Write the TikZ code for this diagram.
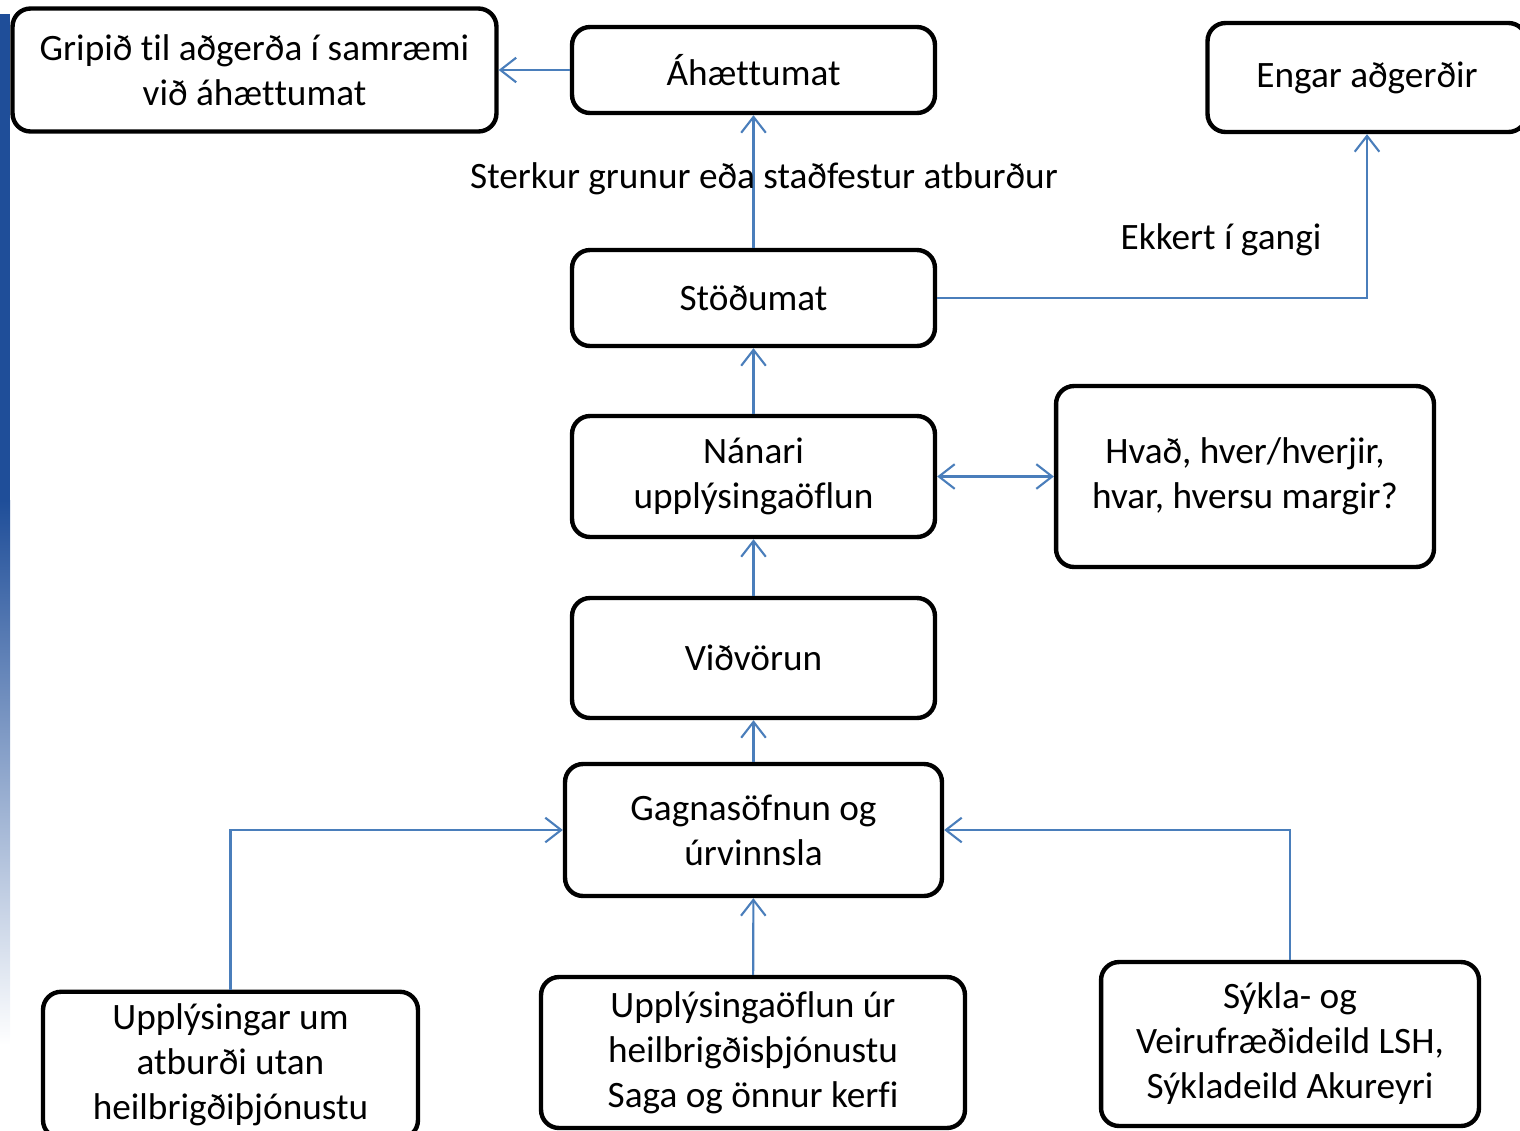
\documentclass[tikz,border=0pt]{standalone}
\usepackage{fontspec}
\setmainfont{Carlito}[Ligatures={NoCommon,NoContextual}]
\usepackage{xcolor}
\usepackage{tikz}
\usetikzlibrary{arrows.meta}
\usetikzlibrary{positioning}
\definecolor{linkblue}{RGB}{74,126,187}
\definecolor{slideblue}{RGB}{31,78,153}
\tikzset{
  flowbox/.style = {draw=black, line width=2.5pt, rounded corners=0.36cm,
    align=center, inner sep=0pt, font=\fontsize{21.2}{25.6}\selectfont},% kassi
  flowtext/.style = {align=center, inner sep=0pt,
    font=\fontsize{21.2}{25.6}\selectfont},% merki
  link/.style = {draw=linkblue, line width=1.2pt}% tenging
}

\begin{document}
\begin{tikzpicture}[x=0.02cm,y=-0.02cm,->,>={Straight Barb[length=9pt,width=14pt]}]
\useasboundingbox (0,0) rectangle (1520,1130);
\clip (0,0) rectangle (1520,1130);
% rond glaerunnar
\fill[slideblue] (0,14) rectangle (10,500);
\shade[top color=slideblue, bottom color=white] (0,500) rectangle (10,1045);

\node [flowbox, minimum width=9.68cm, minimum height=2.46cm] (grip) at (254.5,70)
  {Gripið til aðgerða í samræmi\\við áhæt\kern0pt tumat};
\node [flowbox, minimum width=7.26cm, minimum height=1.72cm] (ahaetta) at (753.5,70)
  {Áhæt\kern0pt tumat};
\node [flowbox, minimum width=6.38cm, minimum height=2.18cm] (engar) at (1367,77.5)
  {Engar aðgerðir};
\node [flowbox, minimum width=7.26cm, minimum height=1.92cm] (stada) at (753.5,298)
  {Stöðumat};
\node [flowbox, minimum width=7.26cm, minimum height=2.42cm] (nanari) at (753.5,476.5)
  {Nánari\\upplýsingaöflun};
\node [flowbox, minimum width=7.56cm, minimum height=3.62cm] (hvad) at (1245,476.5)
  {Hvað, hver/hverjir,\\hvar, hversu margir?};
\node [flowbox, minimum width=7.26cm, minimum height=2.4cm] (vidvorun) at (753.5,658)
  {Viðvörun};
\node [flowbox, minimum width=7.54cm, minimum height=2.64cm] (gagna) at (753.5,830)
  {Gagnasöfnun og\\úrvinnsla};
\node [flowbox, minimum width=7.5cm, minimum height=2.93cm] (utan) at (230.5,1065)
  {Upplýsingar um\\atburði utan\\heilbrigðiþjónustu};
\node [flowbox, minimum width=8.48cm, minimum height=3.02cm] (heilbr) at (753,1052.5)
  {Upplýsingaöflun úr\\heilbrigðisþjónustu\\Saga og önnur kerfi};
\node [flowbox, minimum width=7.56cm, minimum height=3.28cm] (sykla) at (1290,1044)
  {Sýkla- og\\Veirufræðideild LSH,\\Sýkladeild Akureyri};

\draw [link] (ahaetta) -- (grip);
\draw [link] (stada) -- (ahaetta);
\draw [link] (stada.east) -| (engar.south);
\draw [link] (nanari) -- (stada);
\draw [link,<->] (nanari) -- (hvad);
\draw [link] (vidvorun) -- (nanari);
\draw [link] (gagna) -- (vidvorun);
\draw [link] (heilbr) -- (gagna);
\draw [link] (utan.north) |- (gagna.west);
\draw [link] (sykla.north) |- (gagna.east);

\node [flowtext] (sterkur) at (764,179) {Sterkur grunur eða staðfestur atburður};
\node [flowtext] (ekkert) at (1221,240) {Ekkert í gangi};
%\node [flowtext] at (753,1180) {};
\end{tikzpicture}
\end{document}
